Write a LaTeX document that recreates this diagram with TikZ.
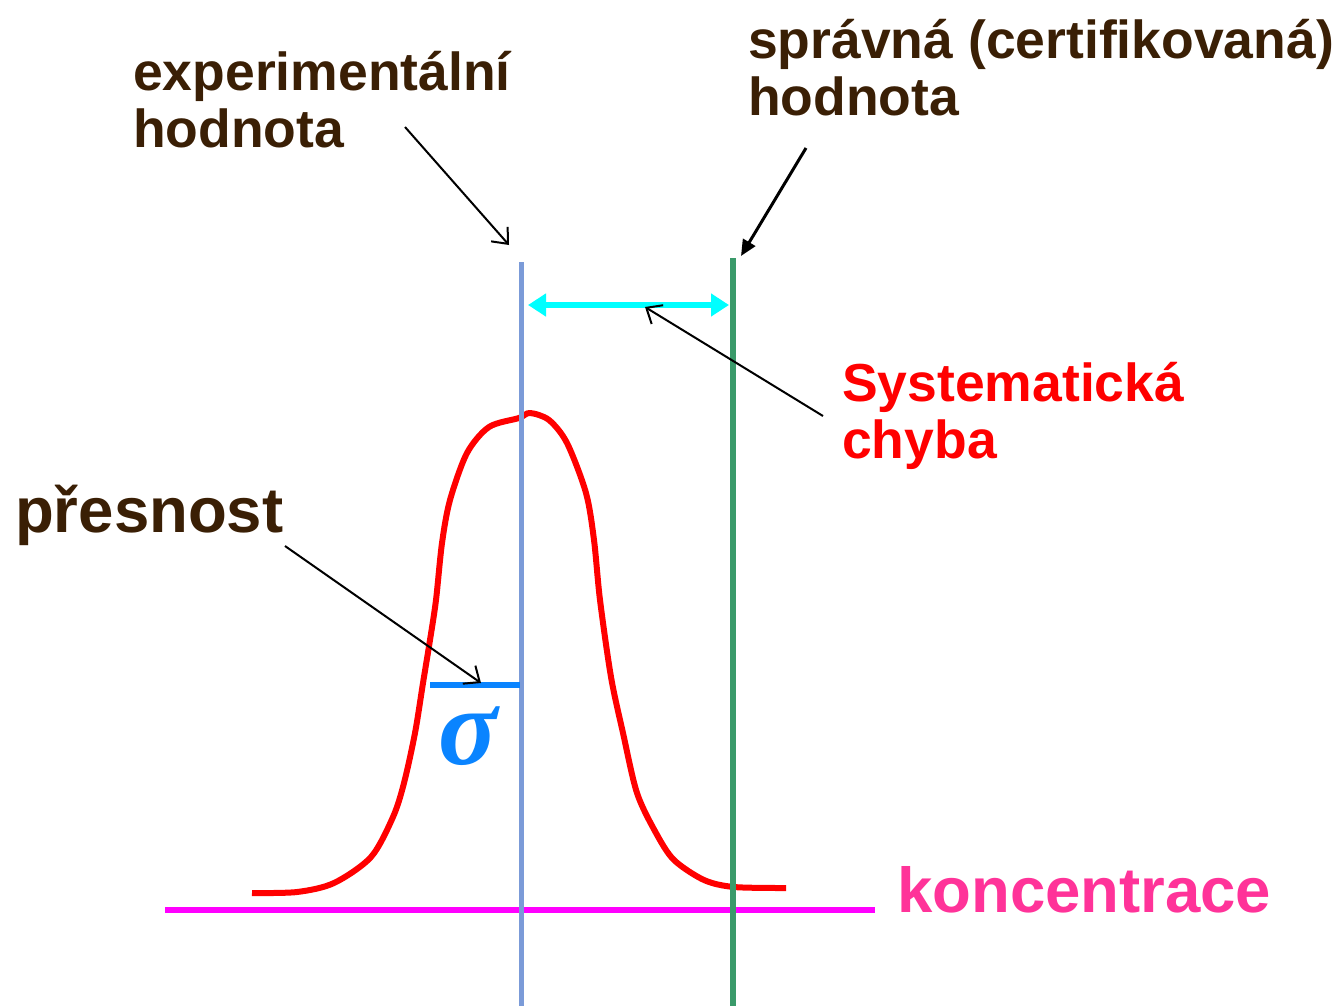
\documentclass[tikz,border=0pt]{standalone}
\usepackage{fontspec}
\setmainfont{Liberation Sans}
\newfontfamily\sigmafont{Liberation Serif}
\usetikzlibrary{arrows.meta}
\definecolor{LblBrown}{HTML}{3A1F05}
\definecolor{ExpBlue}{HTML}{7B9BD8}
\definecolor{TrueGreen}{HTML}{3A9A6A}
\definecolor{SigBlue}{HTML}{0A84FF}
\definecolor{ErrCyan}{HTML}{00FFFF}
\definecolor{AxisPink}{HTML}{FF00FF}
\definecolor{KonPink}{HTML}{FF3399}

\begin{document}
\begin{tikzpicture}[x=1pt,y=-1pt,
  lbl/.style={anchor=base west, inner sep=0pt, align=left,
              font=\fontsize{53.5}{57}\selectfont\bfseries, text=LblBrown},
  biglbl/.style={lbl, font=\fontsize{63.5}{66}\selectfont\bfseries},
  ptr/.style={black, line width=2pt, -{Straight Barb[length=13pt,width=22pt]}},
  >=Stealth]
  \useasboundingbox (0,0) rectangle (1337,1006);
  % axis and the two values
  \coordinate (axL) at (165,910);
  \coordinate (axR) at (875,910);
  \coordinate (expTop) at (521,262);
  \coordinate (expBot) at (521,1006);
  \coordinate (trueTop) at (733,258);
  \coordinate (trueBot) at (733,1006);
  \draw[AxisPink, line width=5.5pt] (axL) -- (axR);
  \draw[red, line width=6pt, line join=round] plot[smooth, tension=0.5] coordinates {
    (252,893) (297,892) (334,883) (371,857) (393,817) (404,783) (415,733)
    (423,683) (430,640) (436,600) (442,543) (450,500) (467,453) (489,427)
    (519,418) (530,413) (549,420) (567,443) (586,493) (594,540) (600,600)
    (611,677) (623,733) (637,793) (656,833) (674,860) (704,880) (734,887)
    (786,888)};
  \draw[ExpBlue, line width=5pt] (expTop) -- (expBot);
  \draw[TrueGreen, line width=6pt] (trueTop) -- (trueBot);
  % sigma
  \coordinate (sigL) at (430,685);
  \coordinate (sigR) at (520,685);
  \draw[SigBlue, line width=5.5pt] (sigL) -- (sigR);
  \node[text=SigBlue, inner sep=0pt, font=\fontsize{110}{110}\selectfont\sigmafont\bfseries\itshape]
    (sig) at (468,736) {σ};
  % systematic error
  \coordinate (errL) at (528,305);
  \coordinate (errR) at (729,305);
  \draw[ErrCyan, line width=6.5pt, {Triangle[length=18pt,width=22pt]}-{Triangle[length=18pt,width=22pt]}]
    (errL) -- (errR);
  % labels
  \node[lbl] (expLbl) at (133,147) {experimentální\\hodnota};
  \node[lbl] (trueLbl) at (748,116) {správná (certifikovaná)\\hodnota};
  \node[lbl, text=red] (errLbl) at (842,458) {Systematická\\chyba};
  \node[biglbl] (precLbl) at (15,532) {přesnost};
  \node[biglbl, text=KonPink] (konLbl) at (897,912) {koncentrace};
  % pointers
  \coordinate (expFrom) at (405,127);
  \coordinate (expTo) at (509,245);
  \coordinate (trueFrom) at (806,148);
  \coordinate (trueTo) at (741,256);
  \coordinate (errFrom) at (823,416);
  \coordinate (errTo) at (645,307);
  \coordinate (precFrom) at (285,546);
  \coordinate (precTo) at (481,683);
  \draw[ptr] (expFrom) -- (expTo);
  \draw[black, line width=3pt, -{Triangle[length=16pt,width=14pt]}] (trueFrom) -- (trueTo);
  \draw[ptr] (errFrom) -- (errTo);
  \draw[ptr] (precFrom) -- (precTo);
\end{tikzpicture}
\end{document}
